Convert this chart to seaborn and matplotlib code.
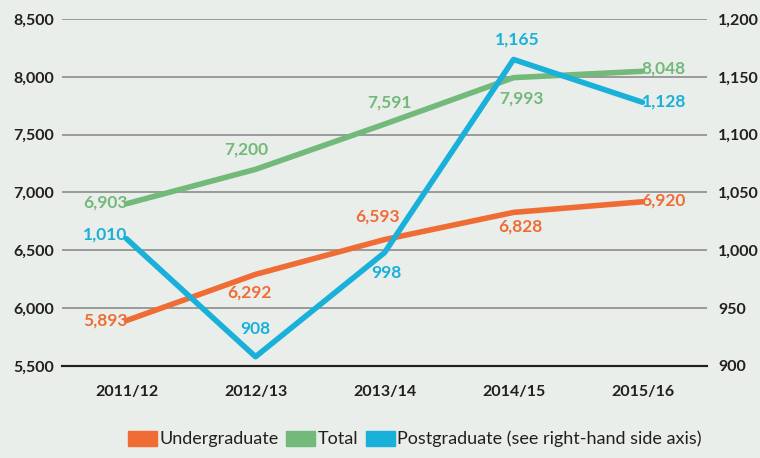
import pandas as pd
import seaborn as sns
import matplotlib.pyplot as plt
from matplotlib.patches import Patch
from matplotlib.ticker import FuncFormatter

years = ["2011/12", "2012/13", "2013/14", "2014/15", "2015/16"]
undergraduate = [5893, 6292, 6593, 6828, 6920]
total = [6903, 7200, 7591, 7993, 8048]
postgraduate = [1010, 908, 998, 1165, 1128]

# label offsets in pixels (dx, dy, ha)
ug_offsets = [(1, 0, "right"), (-6, -18, "center"), (-7, 23, "center"), (7, -14, "center"), (-1, 1, "left")]
tot_offsets = [(1, 1, "right"), (-9, 20, "center"), (5, 22, "center"), (8, -21, "center"), (-1, 3, "left")]
pg_offsets = [(1, 4, "right"), (0, 28, "center"), (2, -20, "center"), (4, 20, "center"), (-1, 1, "left")]

orange = "#ef6c35"
green = "#72b97a"
blue = "#19b0d9"
bg = "#e9eeea"

sns.set_style("white")
plt.rcParams["font.family"] = ["Lato", "DejaVu Sans"]

df = pd.DataFrame({"Year": years, "Undergraduate": undergraduate,
                   "Total": total, "Postgraduate": postgraduate})
df["x"] = range(len(years))

fig = plt.figure(figsize=(7.6, 4.58), dpi=100, facecolor=bg)
ax = fig.add_axes([0.0816, 0.2009, 0.8487, 0.7576])
ax.set_facecolor(bg)
ax2 = ax.twinx()

sns.lineplot(data=df, x="x", y="Total", color=green, lw=4, ax=ax, zorder=3)
sns.lineplot(data=df, x="x", y="Undergraduate", color=orange, lw=4, ax=ax, zorder=3)
sns.lineplot(data=df, x="x", y="Postgraduate", color=blue, lw=4, ax=ax2, zorder=3)

fmt = FuncFormatter(lambda v, p: f"{int(v):,}")
ax.set_ylim(5500, 8500)
ax.set_yticks(range(5500, 8501, 500))
ax.yaxis.set_major_formatter(fmt)
ax2.set_ylim(900, 1200)
ax2.set_yticks(range(900, 1201, 50))
ax2.yaxis.set_major_formatter(fmt)
ax.set_xlim(-0.5, 4.5)
ax.set_xticks(df["x"])
ax.set_xticklabels(years)

ax.grid(axis="y", color="#8c8c8c", lw=1.2)
ax.set_axisbelow(True)
for a in (ax, ax2):
    for s in ("top", "left", "right"):
        a.spines[s].set_visible(False)
    a.spines["bottom"].set_color("#231f20")
    a.spines["bottom"].set_linewidth(1.5)
    a.set_xlabel("")
    a.set_ylabel("")
ax.tick_params(axis="y", length=0, pad=6, labelsize=11.5, labelcolor="#231f20")
ax2.tick_params(axis="y", length=0, pad=8, labelsize=11.5, labelcolor="#231f20")
ax.tick_params(axis="x", direction="in", length=7, width=1.2, color="#231f20",
               pad=14, labelsize=11.5, labelcolor="#231f20")
for lab in ax.get_xticklabels() + ax.get_yticklabels() + ax2.get_yticklabels():
    lab.set_fontweight("bold")


def label(axis, values, offsets, color):
    for i, (v, (dx, dy, ha)) in enumerate(zip(values, offsets)):
        axis.annotate(f"{v:,}", (i, v), xytext=(dx, dy), textcoords="offset pixels",
                      ha=ha, va="center", color=color, fontsize=12.5,
                      fontweight="bold", zorder=5)


label(ax, total, tot_offsets, green)
label(ax, undergraduate, ug_offsets, orange)
label(ax2, postgraduate, pg_offsets, blue)

handles = [Patch(color=orange, label="Undergraduate"),
           Patch(color=green, label="Total"),
           Patch(color=blue, label="Postgraduate (see right-hand side axis)")]
fig.legend(handles=handles, loc="lower center", bbox_to_anchor=(0.546, -0.012), ncol=3,
           frameon=False, fontsize=13, handlelength=1.6, handleheight=0.9,
           handletextpad=0.15, columnspacing=0.4, labelcolor="#231f20")

fig.savefig("out.png", dpi=100, facecolor=bg)
